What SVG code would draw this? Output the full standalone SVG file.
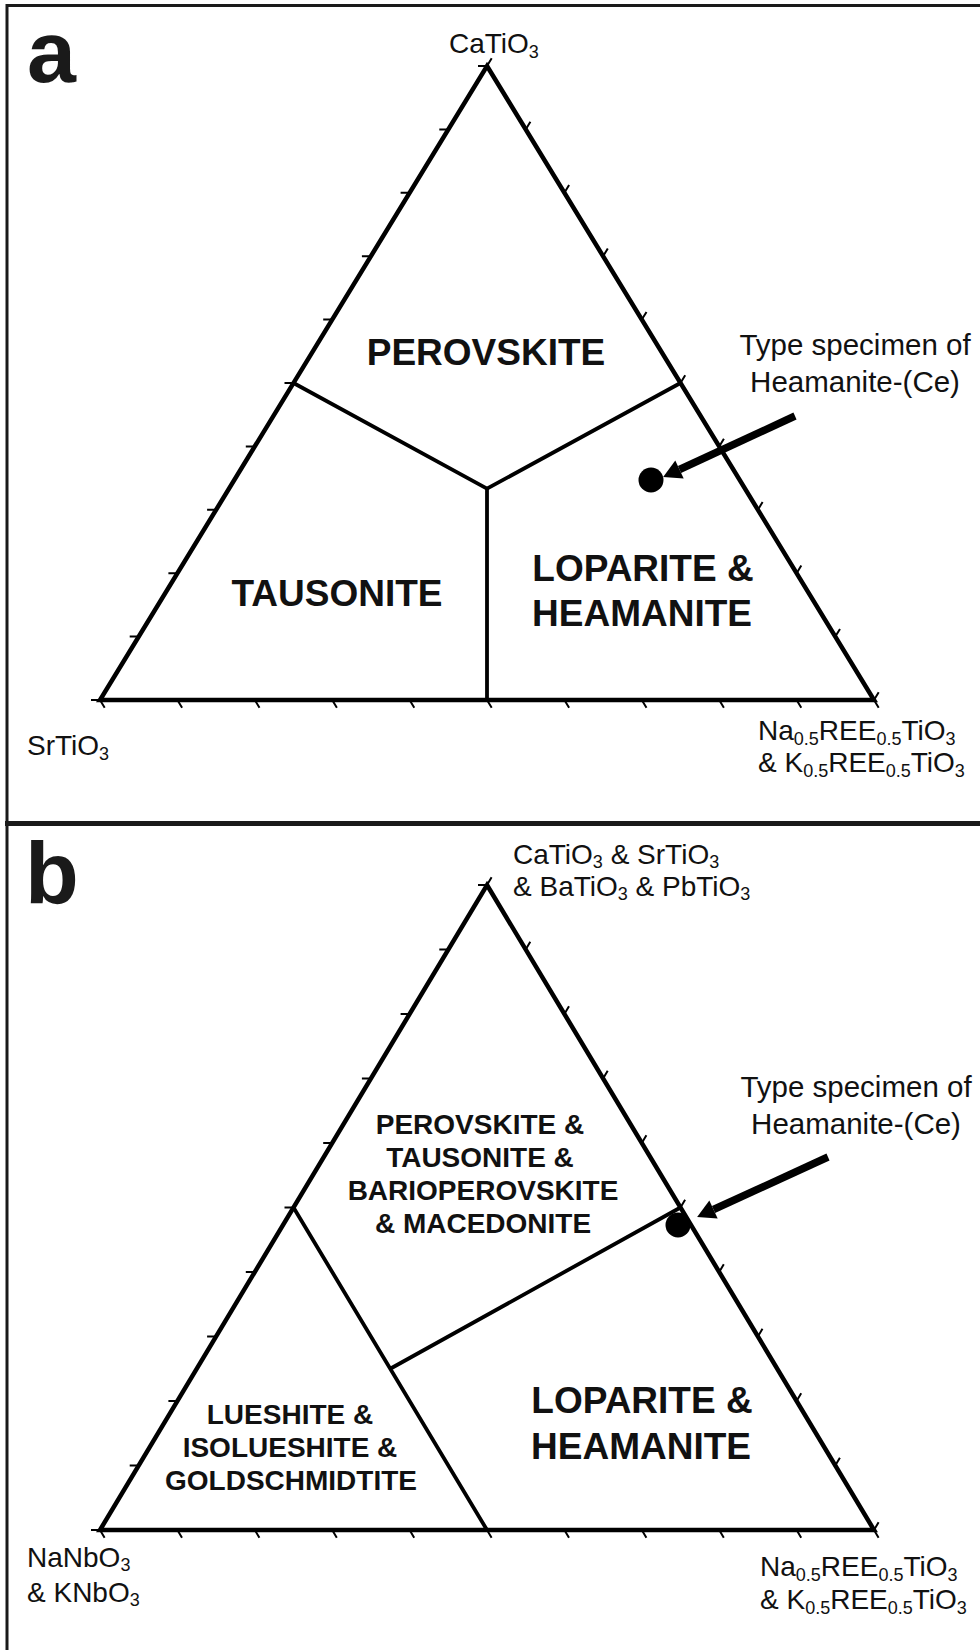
<svg xmlns="http://www.w3.org/2000/svg" width="980" height="1650" viewBox="0 0 980 1650">
<style>
.frame{fill:none;stroke:#1a1a1a;stroke-width:3}
.side{fill:none;stroke:#000;stroke-width:4.5;stroke-linejoin:miter;stroke-miterlimit:10}
.inner{fill:none;stroke:#000;stroke-width:3.8}
.tick{fill:none;stroke:#000;stroke-width:2}
.lbl{font-family:"Liberation Sans",Arial,sans-serif;font-size:28px;fill:#111}
.sub{font-size:18px}
.note{font-family:"Liberation Sans",Arial,sans-serif;font-size:29.5px;fill:#111;text-anchor:middle}
.big{font-family:"Liberation Sans",Arial,sans-serif;font-weight:bold;font-size:37px;fill:#111;text-anchor:middle}
.mid{font-family:"Liberation Sans",Arial,sans-serif;font-weight:bold;font-size:28px;fill:#111;text-anchor:middle}
.panel{font-family:"Liberation Sans",Arial,sans-serif;font-weight:bold;font-size:88px;fill:#1a1a1a}
.arrow{stroke:#000;stroke-width:7.5;fill:none}
</style>
<defs>
<marker id="ah" markerUnits="userSpaceOnUse" markerWidth="22" markerHeight="24" viewBox="0 -12 20 24" refX="0" refY="0" orient="auto">
<path d="M0,-10 L18,0 L0,10 z" fill="#000"/>
</marker>
</defs>

<!-- frames -->
<g id="frames">
<path class="frame" d="M7,1650 V5.5 H980"/>
<line x1="5" y1="823.5" x2="980" y2="823.5" stroke="#1a1a1a" stroke-width="5"/>
</g>

<!-- Panel a -->
<g id="panel-a">
<text class="panel" x="27" y="82">a</text>
<g id="a-triangle">
<path class="side" d="M487,66 L874,700 L100,700 Z"/>
<path class="tick" d="M100,700h-9M138.7,636.6h-9M177.4,573.2h-9M216.1,509.8h-9M254.8,446.4h-9M293.5,383h-9M332.2,319.6h-9M370.9,256.2h-9M409.6,192.8h-9M448.3,129.4h-9M487,66h-9"/>
<path class="tick" d="M487,66l4.7,-7.7M525.7,129.4l4.7,-7.7M564.4,192.8l4.7,-7.7M603.1,256.2l4.7,-7.7M641.8,319.6l4.7,-7.7M680.5,383l4.7,-7.7M719.2,446.4l4.7,-7.7M757.9,509.8l4.7,-7.7M796.6,573.2l4.7,-7.7M835.3,636.6l4.7,-7.7M874,700l4.7,-7.7"/>
<path class="tick" d="M100,700l4.7,7.7M177.4,700l4.7,7.7M254.8,700l4.7,7.7M332.2,700l4.7,7.7M409.6,700l4.7,7.7M487,700l4.7,7.7M564.4,700l4.7,7.7M641.8,700l4.7,7.7M719.2,700l4.7,7.7M796.6,700l4.7,7.7M874,700l4.7,7.7"/>
</g>
<g id="a-boundaries">
<path class="inner" d="M293.5,383 L487,488.7 L680.5,383 M487,488.7 V700"/>
</g>
<g id="a-vertex-labels">
<text class="lbl" x="449" y="53">CaTiO<tspan class="sub" dy="5">3</tspan></text>
<text class="lbl" x="27" y="755">SrTiO<tspan class="sub" dy="5">3</tspan></text>
<text class="lbl" x="758" y="740">Na<tspan class="sub" dy="5">0.5</tspan><tspan dy="-5">REE</tspan><tspan class="sub" dy="5">0.5</tspan><tspan dy="-5">TiO</tspan><tspan class="sub" dy="5">3</tspan></text>
<text class="lbl" x="758" y="772">&amp; K<tspan class="sub" dy="5">0.5</tspan><tspan dy="-5">REE</tspan><tspan class="sub" dy="5">0.5</tspan><tspan dy="-5">TiO</tspan><tspan class="sub" dy="5">3</tspan></text>
</g>
<g id="a-fields">
<text class="big" x="486" y="365">PEROVSKITE</text>
<text class="big" x="337" y="606">TAUSONITE</text>
<text class="big" x="643" y="581">LOPARITE &amp;</text>
<text class="big" x="642" y="626">HEAMANITE</text>
</g>
<g id="a-specimen">
<circle cx="651" cy="480" r="12.5" fill="#000"/>
<text class="note" x="855" y="355">Type specimen of</text>
<text class="note" x="855" y="392">Heamanite-(Ce)</text>
</g>
</g>

<!-- Panel b -->
<g id="panel-b">
<text class="panel" x="25" y="903">b</text>
<g id="b-triangle">
<path class="side" d="M487,885 L874,1530 L100,1530 Z"/>
<path class="tick" d="M100,1530h-9M138.7,1465.5h-9M177.4,1401h-9M216.1,1336.5h-9M254.8,1272h-9M293.5,1207.5h-9M332.2,1143h-9M370.9,1078.5h-9M409.6,1014h-9M448.3,949.5h-9M487,885h-9"/>
<path class="tick" d="M487,885l4.6,-7.7M525.7,949.5l4.6,-7.7M564.4,1014l4.6,-7.7M603.1,1078.5l4.6,-7.7M641.8,1143l4.6,-7.7M680.5,1207.5l4.6,-7.7M719.2,1272l4.6,-7.7M757.9,1336.5l4.6,-7.7M796.6,1401l4.6,-7.7M835.3,1465.5l4.6,-7.7M874,1530l4.6,-7.7"/>
<path class="tick" d="M100,1530l4.6,7.7M177.4,1530l4.6,7.7M254.8,1530l4.6,7.7M332.2,1530l4.6,7.7M409.6,1530l4.6,7.7M487,1530l4.6,7.7M564.4,1530l4.6,7.7M641.8,1530l4.6,7.7M719.2,1530l4.6,7.7M796.6,1530l4.6,7.7M874,1530l4.6,7.7"/>
</g>
<g id="b-boundaries">
<path class="inner" d="M293.5,1207.5 L487,1530 M390.25,1368.75 L680.5,1207.5"/>
</g>
<g id="b-vertex-labels">
<text class="lbl" x="513" y="864">CaTiO<tspan class="sub" dy="4">3</tspan><tspan dy="-4"> &amp; SrTiO</tspan><tspan class="sub" dy="4">3</tspan></text>
<text class="lbl" x="513" y="896">&amp; BaTiO<tspan class="sub" dy="4">3</tspan><tspan dy="-4"> &amp; PbTiO</tspan><tspan class="sub" dy="4">3</tspan></text>
<text class="lbl" x="27" y="1567">NaNbO<tspan class="sub" dy="4">3</tspan></text>
<text class="lbl" x="27" y="1602">&amp; KNbO<tspan class="sub" dy="4">3</tspan></text>
<text class="lbl" x="760" y="1576">Na<tspan class="sub" dy="5">0.5</tspan><tspan dy="-5">REE</tspan><tspan class="sub" dy="5">0.5</tspan><tspan dy="-5">TiO</tspan><tspan class="sub" dy="5">3</tspan></text>
<text class="lbl" x="760" y="1609">&amp; K<tspan class="sub" dy="5">0.5</tspan><tspan dy="-5">REE</tspan><tspan class="sub" dy="5">0.5</tspan><tspan dy="-5">TiO</tspan><tspan class="sub" dy="5">3</tspan></text>
</g>
<g id="b-fields">
<text class="mid" x="480" y="1134">PEROVSKITE &amp;</text>
<text class="mid" x="480" y="1167">TAUSONITE &amp;</text>
<text class="mid" x="483" y="1200">BARIOPEROVSKITE</text>
<text class="mid" x="483" y="1233">&amp; MACEDONITE</text>
<text class="mid" x="290" y="1424">LUESHITE &amp;</text>
<text class="mid" x="290" y="1457">ISOLUESHITE &amp;</text>
<text class="mid" x="291" y="1490">GOLDSCHMIDTITE</text>
<text class="big" x="642" y="1413">LOPARITE &amp;</text>
<text class="big" x="641" y="1459">HEAMANITE</text>
</g>
<g id="b-specimen">
<circle cx="678" cy="1225" r="12.5" fill="#000"/>
<text class="note" x="856" y="1097">Type specimen of</text>
<text class="note" x="856" y="1134">Heamanite-(Ce)</text>
</g>
</g>

<!-- connectors -->
<g id="connectors">
<line class="arrow" x1="795" y1="416" x2="679.5" y2="469.5" marker-end="url(#ah)"/>
<line class="arrow" x1="828" y1="1157" x2="713.5" y2="1209.5" marker-end="url(#ah)"/>
</g>
</svg>
